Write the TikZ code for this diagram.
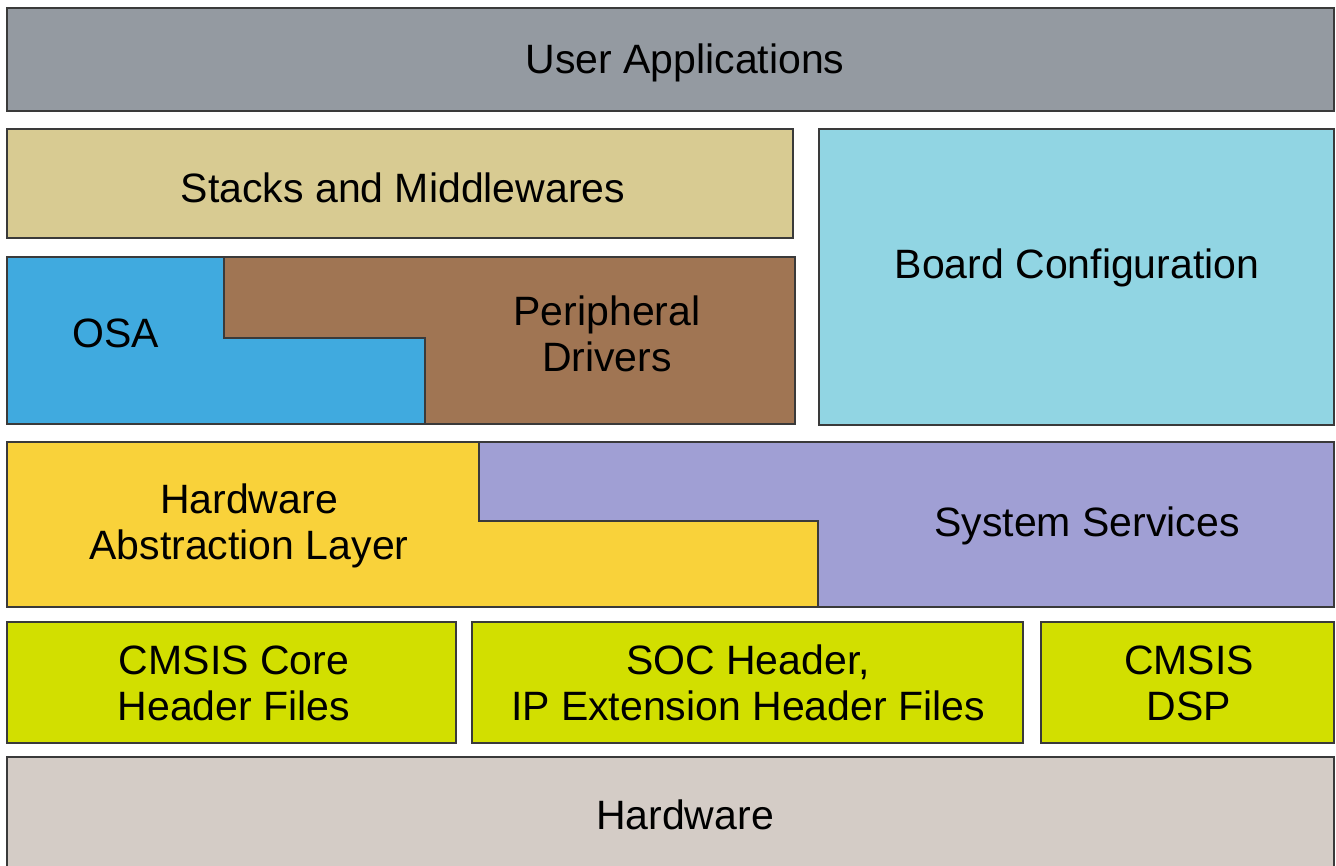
\documentclass[tikz,border=0pt]{standalone}
\usepackage{fontspec}
\setmainfont{Liberation Sans}
\definecolor{cUser}{HTML}{949AA1}
\definecolor{cStack}{HTML}{D8CB92}
\definecolor{cBoard}{HTML}{91D5E3}
\definecolor{cOSA}{HTML}{40AADF}
\definecolor{cPeri}{HTML}{A07553}
\definecolor{cHAL}{HTML}{F9D23A}
\definecolor{cSys}{HTML}{A09FD4}
\definecolor{cCmsis}{HTML}{D2DF00}
\definecolor{cHw}{HTML}{D4CCC6}
\definecolor{cEdge}{HTML}{3A3A3A}
\tikzset{
  layer/.style={draw=cEdge, line width=1.3pt},
  lbl/.style={align=center, font=\fontsize{41}{46}\selectfont, text=black, inner sep=0pt}
}
\begin{document}
\begin{tikzpicture}[x=1pt, y=-1pt]
\useasboundingbox (0,0) rectangle (1336,865);
\clip (0,0) rectangle (1336,865);
% top
\draw[layer, fill=cUser] (7,8) rectangle (1334,111);
\draw[layer, fill=cStack] (7,129) rectangle (793,238);
\draw[layer, fill=cBoard] (819,129) rectangle (1334,425);
% OSA / peripheral
\draw[layer, fill=cPeri] (224,257) -- (795,257) -- (795,424) -- (425,424) -- (425,338) -- (224,338) -- cycle;
\draw[layer, fill=cOSA] (7,257) -- (224,257) -- (224,338) -- (425,338) -- (425,424) -- (7,424) -- cycle;
% HAL / system services
\draw[layer, fill=cSys] (479,442) -- (1334,442) -- (1334,607) -- (818,607) -- (818,521) -- (479,521) -- cycle;
\draw[layer, fill=cHAL] (7,442) -- (479,442) -- (479,521) -- (818,521) -- (818,607) -- (7,607) -- cycle;
% CMSIS row
\draw[layer, fill=cCmsis] (7,622) rectangle (456,743);
\draw[layer, fill=cCmsis] (472,622) rectangle (1023,743);
\draw[layer, fill=cCmsis] (1041,622) rectangle (1334,743);
% hardware
\draw[layer, fill=cHw] (7,757) rectangle (1334,880);
% labels
\node[lbl] (user) at (685,63) {User Applications};
\node[lbl] (stack) at (403,188) {Stacks and Middlewares};
\node[lbl] (board) at (1077,268) {Board Configuration};
\node[lbl] (osa) at (116,333) {OSA};
\node[lbl] (peri) at (607,334) {Peripheral\\Drivers};
\node[lbl] (hal) at (249,526) {Hardware\\Abstraction Layer};
\node[lbl] (sys) at (1087,526) {System Services};
\node[lbl] (core) at (234,683) {CMSIS Core\\Header Files};
\node[lbl] (soc) at (748,683) {SOC Header,\\IP Extension Header Files};
\node[lbl] (dsp) at (1189,683) {CMSIS\\DSP};
\node[lbl] (hw) at (685,815) {Hardware};
\end{tikzpicture}
\end{document}
